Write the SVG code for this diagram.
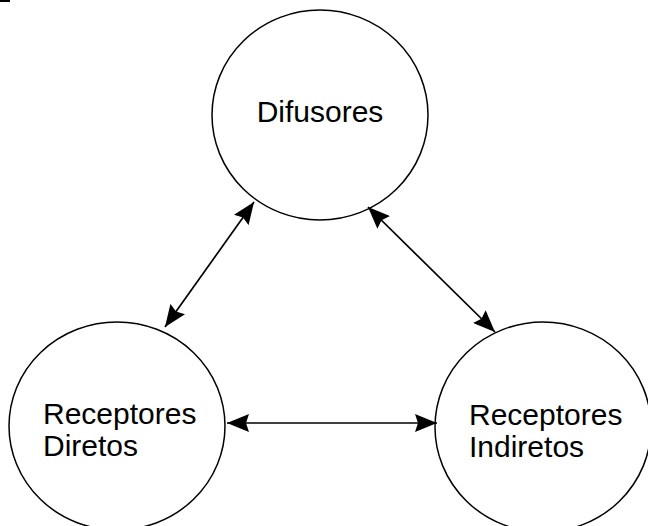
<svg xmlns="http://www.w3.org/2000/svg" width="648" height="526" viewBox="0 0 648 526">
<defs>
<marker id="ah" viewBox="0 0 22 18" refX="22" refY="9" markerWidth="22" markerHeight="18" markerUnits="userSpaceOnUse" orient="auto-start-reverse">
<path d="M0,0 L22,9 L0,18 L3,9 Z" fill="#000"/>
</marker>
</defs>
<style>
.node{fill:#fff;stroke:#000;stroke-width:1.5}
.lbl{font-family:"Liberation Sans",Arial,sans-serif;font-size:30px;fill:#000}
.conn{stroke:#000;stroke-width:1.7;fill:none;marker-start:url(#ah);marker-end:url(#ah)}
</style>
<rect width="648" height="526" fill="#fff"/>
<rect x="0" y="0" width="10" height="2" fill="#000"/>
<g id="difusores">
<ellipse class="node" cx="320" cy="115" rx="108" ry="105"/>
<text class="lbl" x="320" y="122" text-anchor="middle">Difusores</text>
</g>
<g id="receptores-diretos">
<ellipse class="node" cx="117" cy="426" rx="108" ry="104"/>
<text class="lbl" x="43" y="424">Receptores</text>
<text class="lbl" x="43" y="456">Diretos</text>
</g>
<g id="receptores-indiretos">
<ellipse class="node" cx="543" cy="427" rx="108" ry="105"/>
<text class="lbl" x="469" y="425">Receptores</text>
<text class="lbl" x="469" y="457">Indiretos</text>
</g>
<g id="connectors">
<line class="conn" x1="254" y1="202" x2="165" y2="327"/>
<line class="conn" x1="368" y1="207" x2="495" y2="332"/>
<line class="conn" x1="227" y1="423" x2="437" y2="423"/>
</g>
</svg>
